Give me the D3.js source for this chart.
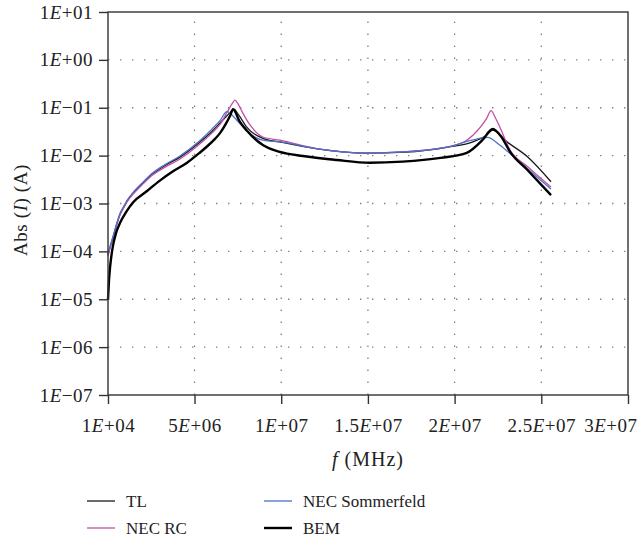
<!DOCTYPE html>
<html>
<head>
<meta charset="utf-8">
<script src="https://cdn.jsdelivr.net/npm/d3@7"></script>
<style>
  body { margin: 0; background: #fff; }
  svg text { font-family: "Liberation Serif", "DejaVu Serif", serif; fill: #222; }
</style>
</head>
<body>
<div id="chart"></div>
<script>
// frequency (Hz) and current (A), one pair of arrays per series
const tlFreq  = [1e4, 1.25e5, 2.98e5, 5.0e5, 7.0e5, 9.3e5, 1.1e6, 1.57e6, 2.03e6, 2.43e6, 3.3e6, 4.16e6, 5.3e6, 6.0e6, 6.47e6, 6.87e6, 7.1e6, 7.28e6, 7.45e6, 7.68e6, 8.0e6, 8.94e6, 9.92e6, 1.22e7, 1.49e7, 1.72e7, 1.96e7, 2.11e7, 2.18e7, 2.22e7, 2.30e7, 2.42e7, 2.556e7];
const tlVal   = [8.5e-5, 1.2e-4, 1.95e-4, 3.55e-4, 5.9e-4, 8.5e-4, 1.1e-3, 1.82e-3, 2.7e-3, 3.7e-3, 6.2e-3, 9.3e-3, 0.019, 0.032, 0.048, 0.068, 0.083, 0.093, 0.079, 0.06, 0.04, 0.023, 0.0193, 0.0137, 0.0113, 0.0118, 0.015, 0.0196, 0.026, 0.034, 0.0196, 0.0095, 0.00285];

const rcFreq  = [1e4, 1.25e5, 2.98e5, 5.0e5, 7.0e5, 9.3e5, 1.1e6, 1.57e6, 2.03e6, 2.43e6, 3.3e6, 4.16e6, 5.3e6, 6.0e6, 6.47e6, 6.93e6, 7.16e6, 7.33e6, 7.51e6, 7.74e6, 8.2e6, 8.94e6, 9.92e6, 1.22e7, 1.49e7, 1.72e7, 1.96e7, 2.07e7, 2.15e7, 2.185e7, 2.21e7, 2.235e7, 2.26e7, 2.32e7, 2.42e7, 2.556e7];
const rcVal   = [7.9e-5, 1.17e-4, 1.9e-4, 3.5e-4, 5.75e-4, 8.3e-4, 1.07e-3, 1.74e-3, 2.57e-3, 3.55e-3, 5.75e-3, 8.5e-3, 0.0174, 0.0295, 0.0447, 0.087, 0.12, 0.145, 0.12, 0.083, 0.0437, 0.0245, 0.021, 0.0137, 0.0113, 0.0121, 0.0153, 0.021, 0.040, 0.06, 0.087, 0.062, 0.040, 0.013, 0.0059, 0.0022];

const somFreq = [1e4, 1.25e5, 2.98e5, 5.0e5, 7.0e5, 9.3e5, 1.1e6, 1.57e6, 2.03e6, 2.43e6, 3.3e6, 4.16e6, 5.3e6, 6.0e6, 6.47e6, 6.87e6, 7.44e6, 8.0e6, 8.94e6, 9.92e6, 1.22e7, 1.49e7, 1.72e7, 1.96e7, 2.1e7, 2.19e7, 2.26e7, 2.34e7, 2.556e7];
const somVal  = [8.9e-5, 1.26e-4, 2.04e-4, 3.7e-4, 6.2e-4, 8.9e-4, 1.15e-3, 1.9e-3, 2.8e-3, 3.9e-3, 6.5e-3, 9.8e-3, 0.0204, 0.0355, 0.0537, 0.083, 0.055, 0.033, 0.021, 0.0193, 0.0137, 0.0113, 0.0121, 0.015, 0.021, 0.024, 0.0167, 0.0095, 0.002];

const bemFreq = [1e4, 6.8e4, 1.25e5, 2.1e5, 2.98e5, 4.7e5, 7.0e5, 1.05e6, 1.45e6, 2.26e6, 3.0e6, 3.76e6, 4.57e6, 5.3e6, 5.72e6, 6.18e6, 6.47e6, 6.82e6, 7.05e6, 7.22e6, 7.6e6, 8.0e6, 8.94e6, 9.92e6, 1.125e7, 1.32e7, 1.51e7, 1.70e7, 1.92e7, 2.07e7, 2.16e7, 2.22e7, 2.27e7, 2.32e7, 2.42e7, 2.556e7];
const bemVal  = [1.0e-5, 2.5e-5, 4.5e-5, 8.3e-5, 1.32e-4, 2.4e-4, 3.9e-4, 6.6e-4, 1.05e-3, 1.82e-3, 3.0e-3, 4.7e-3, 7.1e-3, 0.0115, 0.0155, 0.0224, 0.0295, 0.047, 0.068, 0.093, 0.052, 0.034, 0.0166, 0.012, 0.0098, 0.0081, 0.0071, 0.0075, 0.009, 0.0114, 0.021, 0.036, 0.0245, 0.012, 0.005, 0.0015];

const xTicks = [1e4, 5e6, 1e7, 1.5e7, 2e7, 2.5e7, 3e7];
const xTickLabels = ["1E+04", "5E+06", "1E+07", "1.5E+07", "2E+07", "2.5E+07", "3E+07"];
const yTicks = [1e1, 1e0, 1e-1, 1e-2, 1e-3, 1e-4, 1e-5, 1e-6, 1e-7];
const yTickLabels = ["1E+01", "1E+00", "1E\u221201", "1E\u221202", "1E\u221203", "1E\u221204", "1E\u221205", "1E\u221206", "1E\u221207"];

const series = [
    {name: "TL", freq: tlFreq, val: tlVal, color: "#1a1a1a", width: 1.3},
    {name: "NEC RC", freq: rcFreq, val: rcVal, color: "#c14fa6", width: 1.3},
    {name: "NEC Sommerfeld", freq: somFreq, val: somVal, color: "#4a72c6", width: 1.3},
    {name: "BEM", freq: bemFreq, val: bemVal, color: "#000000", width: 2.4}
];

const width = 643, height = 539;
const margin = {top: 12, right: 15, bottom: 144, left: 108};
const innerW = width - margin.left - margin.right;
const innerH = height - margin.top - margin.bottom;

const svg = d3.select("#chart").append("svg")
    .attr("width", width)
    .attr("height", height);
const chart = svg.append("g")
    .attr("transform", `translate(${margin.left}, ${margin.top})`);

const xScale = d3.scaleLinear().domain([1e4, 3e7]).range([0, innerW]);
const yScale = d3.scaleLog().domain([1e-7, 1e1]).range([innerH, 0]);

// writes "1E+04" style labels with an italic E
function richLabel(sel, str) {
    sel.text(null);
    const i = str.indexOf("E");
    sel.append("tspan").text(str.slice(0, i));
    sel.append("tspan").attr("font-style", "italic").text("E");
    sel.append("tspan").text(str.slice(i + 1));
}

// dotted grid
const gridStyle = g => g.attr("stroke", "#808080").attr("stroke-width", 1.3)
    .attr("stroke-dasharray", "1.4,10.6").attr("fill", "none");
chart.append("g").call(gridStyle)
    .selectAll("line")
    .data(yTicks.slice(1, -1))
    .join("line")
        .attr("x1", 0).attr("x2", innerW)
        .attr("y1", d => yScale(d)).attr("y2", d => yScale(d));
chart.append("g").call(gridStyle)
    .selectAll("line")
    .data(xTicks.slice(1, -1))
    .join("line")
        .attr("y1", innerH).attr("y2", 0)
        .attr("x1", d => xScale(d)).attr("x2", d => xScale(d));

// curves
const line = d3.line()
    .x(d => xScale(d[0]))
    .y(d => yScale(d[1]))
    .curve(d3.curveMonotoneX);

chart.append("g").selectAll("path")
    .data(series)
    .join("path")
        .attr("fill", "none")
        .attr("stroke", d => d.color)
        .attr("stroke-width", d => d.width)
        .attr("stroke-linejoin", "round")
        .attr("d", d => line(d3.zip(d.freq, d.val)));

// frame
chart.append("rect")
    .attr("width", innerW).attr("height", innerH)
    .attr("fill", "none").attr("stroke", "#333").attr("stroke-width", 1.4);

// axes
const xAxis = d3.axisBottom(xScale)
    .tickValues(xTicks)
    .tickSize(9)
    .tickPadding(15)
    .tickFormat((d, i) => xTickLabels[i]);
const yAxis = d3.axisLeft(yScale)
    .tickValues(yTicks)
    .tickSize(9)
    .tickPadding(6)
    .tickFormat((d, i) => yTickLabels[i]);

const xAxisGroup = chart.append("g")
    .attr("class", "axis x-axis")
    .attr("transform", `translate(0, ${innerH})`)
    .call(xAxis);
const yAxisGroup = chart.append("g")
    .attr("class", "axis y-axis")
    .call(yAxis);

[xAxisGroup, yAxisGroup].forEach(g => {
    g.select(".domain").remove();
    g.selectAll(".tick line").attr("stroke", "#333").attr("stroke-width", 1.4);
    g.selectAll(".tick text")
        .attr("font-size", 19)
        .attr("letter-spacing", 0.5)
        .attr("font-family", "Liberation Serif")
        .attr("fill", "#222")
        .each(function() { richLabel(d3.select(this), d3.select(this).text()); });
});

// last label is pulled in so it stays inside the page
xAxisGroup.selectAll(".tick text")
    .filter((d, i) => i === xTicks.length - 1)
    .attr("text-anchor", "end")
    .attr("x", 9);

// axis titles
const xTitle = svg.append("text")
    .attr("x", margin.left + innerW / 2)
    .attr("y", 466)
    .attr("text-anchor", "middle")
    .attr("font-size", 20)
    .attr("letter-spacing", 1);
xTitle.append("tspan").attr("font-style", "italic").text("f");
xTitle.append("tspan").text(" (MHz)");

const yTitle = svg.append("text")
    .attr("transform", "translate(27, 210) rotate(-90)")
    .attr("text-anchor", "middle")
    .attr("font-size", 19)
    .attr("letter-spacing", 0.6);
yTitle.append("tspan").text("Abs (");
yTitle.append("tspan").attr("font-style", "italic").text("I");
yTitle.append("tspan").text(") (A)");

// legend
const legendPos = [
    {x: 87, y: 501}, {x: 87, y: 528}, {x: 264, y: 501}, {x: 264, y: 528}
];
const legend = svg.append("g").selectAll("g")
    .data(series)
    .join("g")
        .attr("transform", (d, i) => `translate(${legendPos[i].x}, ${legendPos[i].y})`);
legend.append("line")
    .attr("x1", 0).attr("x2", 28)
    .attr("stroke", d => d.color)
    .attr("stroke-width", d => d.width);
legend.append("text")
    .attr("x", 39)
    .attr("y", 6)
    .attr("font-size", 17)
    .text(d => d.name);
</script>
</body>
</html>
